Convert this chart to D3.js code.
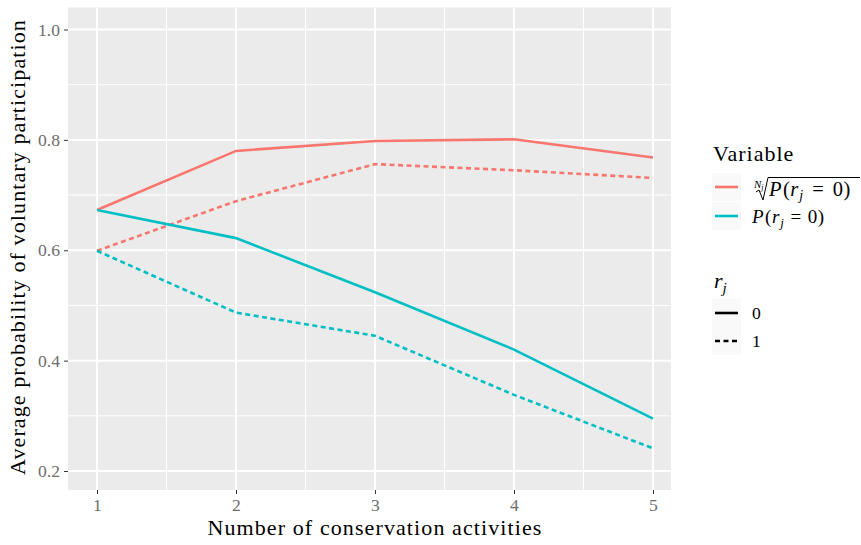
<!DOCTYPE html>
<html lang="en">
<head>
<meta charset="utf-8">
<style>
  body { margin: 0; background: #fff; }
  text { font-family: "Liberation Serif", "Times New Roman", serif; }
</style>
<title>participation</title>
</head>
<body>
<div id="chart"></div>
<script src="https://d3js.org/d3.v7.min.js"></script>
<script>
// data
const activities = [1, 2, 3, 4, 5];
const rootR0 = [0.673, 0.780, 0.798, 0.801, 0.768];
const rootR1 = [0.599, 0.689, 0.756, 0.745, 0.731];
const probR0 = [0.673, 0.622, 0.524, 0.420, 0.295];
const probR1 = [0.599, 0.487, 0.445, 0.338, 0.241];
const yTicks = [0.2, 0.4, 0.6, 0.8, 1.0];
const yMinor = [0.3, 0.5, 0.7, 0.9];
const xMinor = [1.5, 2.5, 3.5, 4.5];

const w = 861, h = 545;
const red = "#F8766D", teal = "#00BFC4";

const svg = d3.select("#chart").append("svg")
    .attr("width", w)
    .attr("height", h);

// panel
const pLeft = 68, pRight = 671, pTop = 7.5, pBottom = 490;
const x = d3.scaleLinear().domain([1, 5]).range([97, 653]);
const y = d3.scaleLinear().domain([0.2, 1.0]).range([471, 29.5]);

svg.append("rect")
    .attr("x", pLeft).attr("y", pTop)
    .attr("width", pRight - pLeft).attr("height", pBottom - pTop)
    .attr("fill", "#EBEBEB");

// minor grid
svg.selectAll(".ymin").data(yMinor).enter().append("line")
    .attr("x1", pLeft).attr("x2", pRight)
    .attr("y1", d => y(d)).attr("y2", d => y(d))
    .attr("stroke", "#fff").attr("stroke-width", 1);
svg.selectAll(".xmin").data(xMinor).enter().append("line")
    .attr("y1", pTop).attr("y2", pBottom)
    .attr("x1", d => x(d)).attr("x2", d => x(d))
    .attr("stroke", "#fff").attr("stroke-width", 1);

// major grid
svg.selectAll(".ymaj").data(yTicks).enter().append("line")
    .attr("x1", pLeft).attr("x2", pRight)
    .attr("y1", d => y(d)).attr("y2", d => y(d))
    .attr("stroke", "#fff").attr("stroke-width", 2);
svg.selectAll(".xmaj").data(activities).enter().append("line")
    .attr("y1", pTop).attr("y2", pBottom)
    .attr("x1", d => x(d)).attr("x2", d => x(d))
    .attr("stroke", "#fff").attr("stroke-width", 2);

// axes
const yAxis = svg.append("g")
    .attr("transform", "translate(" + pLeft + ",0)")
    .call(d3.axisLeft(y).tickValues(yTicks).tickFormat(d3.format(".1f")).tickSize(4).tickPadding(4));
const xAxis = svg.append("g")
    .attr("transform", "translate(0," + pBottom + ")")
    .call(d3.axisBottom(x).tickValues(activities).tickFormat(d3.format("d")).tickSize(4).tickPadding(5));
[yAxis, xAxis].forEach(a => {
    a.select(".domain").remove();
    a.selectAll("line").attr("stroke", "#333").attr("stroke-width", 1);
    a.selectAll("text")
        .attr("fill", "#6e6e6e")
        .style("font-family", "'Liberation Serif', serif")
        .style("font-size", "17.6px");
});

// lines
const series = [
    {vals: rootR0, color: red, dash: null},
    {vals: rootR1, color: red, dash: "5,3.5"},
    {vals: probR0, color: teal, dash: null},
    {vals: probR1, color: teal, dash: "5,3.5"}
];
const line = d3.line()
    .x((d, i) => x(activities[i]))
    .y(d => y(d));
svg.selectAll(".series").data(series).enter().append("path")
    .attr("d", d => line(d.vals))
    .attr("fill", "none")
    .attr("stroke", d => d.color)
    .attr("stroke-width", 2.6)
    .attr("stroke-dasharray", d => d.dash);

// axis titles
svg.append("text")
    .attr("x", 375).attr("y", 535)
    .attr("text-anchor", "middle")
    .style("font-size", "22px")
    .style("letter-spacing", "1.1px")
    .text("Number of conservation activities");
svg.append("text")
    .attr("transform", "translate(25,247) rotate(-90)")
    .attr("text-anchor", "middle")
    .style("font-size", "22px")
    .style("letter-spacing", "1.1px")
    .text("Average probability of voluntary participation");

// legend
function pLabel(g, x0, y0, size, gap) {
    const t = g.append("text").attr("x", x0).attr("y", y0).style("font-size", size + "px");
    t.append("tspan").attr("font-style", "italic").text("P");
    t.append("tspan").attr("dx", 1.5).text("(");
    t.append("tspan").attr("font-style", "italic").attr("dx", 0.5).text("r");
    t.append("tspan").attr("font-style", "italic").attr("dy", 4).attr("dx", 1).style("font-size", (size * 0.68) + "px").text("j");
    t.append("tspan").attr("dy", -4).attr("dx", gap).text("=");
    t.append("tspan").attr("dx", gap).text("0");
    t.append("tspan").attr("dx", 0.5).text(")");
    return t;
}

const leg = svg.append("g");
leg.append("text").attr("x", 713).attr("y", 161)
    .style("font-size", "22px").style("letter-spacing", "1px").text("Variable");

const keys1 = [{color: red, cy: 187}, {color: teal, cy: 216}];
leg.selectAll(".k1").data(keys1).enter().append("rect")
    .attr("x", 712).attr("y", d => d.cy - 14).attr("width", 29).attr("height", 28)
    .attr("fill", "#F9F9F9");
leg.selectAll(".k1l").data(keys1).enter().append("line")
    .attr("x1", 715).attr("x2", 738)
    .attr("y1", d => d.cy).attr("y2", d => d.cy)
    .attr("stroke", d => d.color).attr("stroke-width", 2.6);

// root label: N_j-th root of P(r_j = 0)
const idx = leg.append("text").attr("x", 754).attr("y", 188).style("font-size", "11px").attr("font-style", "italic");
idx.append("tspan").text("N");
idx.append("tspan").attr("dy", 2).style("font-size", "8px").text("j");
leg.append("path")
    .attr("d", "M756,192 L759,190 L763,200 L768,177.5 L860,177.5")
    .attr("fill", "none").attr("stroke", "#000").attr("stroke-width", 1);
pLabel(leg, 769, 196, 20.5, 9);
pLabel(leg, 752, 223, 19, 6.5);

// r_j legend
const rt = leg.append("text").attr("x", 714).attr("y", 288).style("font-size", "22px").attr("font-style", "italic");
rt.append("tspan").text("r");
rt.append("tspan").attr("dy", 5).style("font-size", "15px").text("j");

const keys2 = [{label: "0", cy: 313, dash: null}, {label: "1", cy: 341, dash: "5,3.5"}];
leg.selectAll(".k2").data(keys2).enter().append("rect")
    .attr("x", 712).attr("y", d => d.cy - 14).attr("width", 29).attr("height", 28)
    .attr("fill", "#F9F9F9");
leg.selectAll(".k2l").data(keys2).enter().append("line")
    .attr("x1", 715).attr("x2", 738)
    .attr("y1", d => d.cy).attr("y2", d => d.cy)
    .attr("stroke", "#000").attr("stroke-width", 2.6)
    .attr("stroke-dasharray", d => d.dash);
leg.selectAll(".k2t").data(keys2).enter().append("text")
    .attr("x", 752).attr("y", d => d.cy + 6)
    .style("font-size", "17.6px")
    .text(d => d.label);
</script>
</body>
</html>
